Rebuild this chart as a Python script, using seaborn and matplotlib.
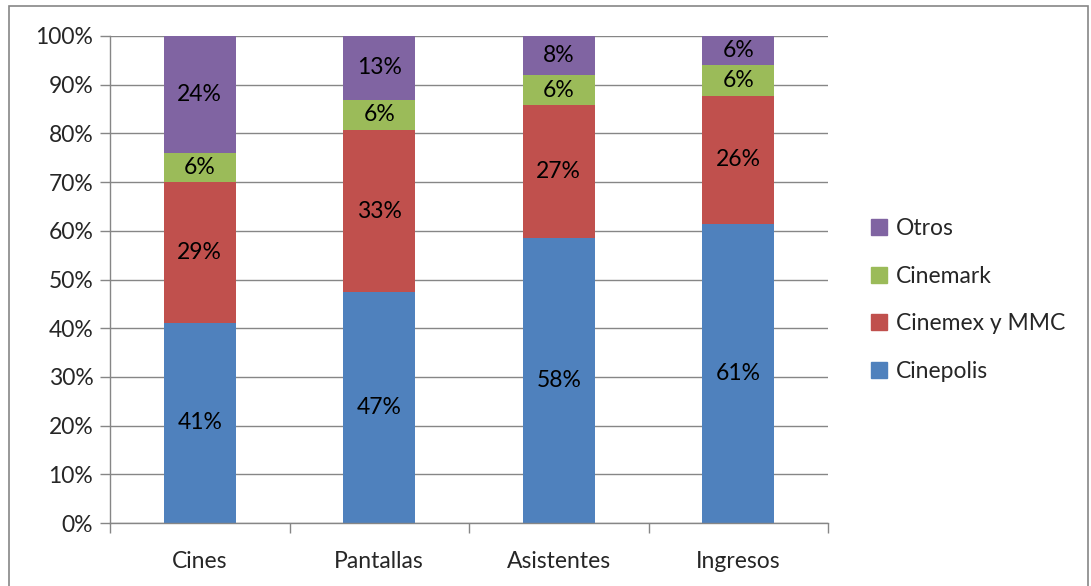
import numpy as np
import pandas as pd
import matplotlib
matplotlib.use('agg')
import matplotlib.pyplot as plt
import matplotlib.patches as mpatches
import seaborn as sns

# Data (percent shares)
categorias = ['Cines', 'Pantallas', 'Asistentes', 'Ingresos']
series = ['Cinepolis', 'Cinemex y MMC', 'Cinemark', 'Otros']
cinepolis = [41.1, 47.4, 58.5, 61.4]
cinemex = [28.9, 33.3, 27.3, 26.3]
cinemark = [6.0, 6.2, 6.2, 6.3]
otros = [24.0, 13.1, 8.0, 6.0]
colores = ['#4F81BD', '#C0504D', '#9BBB59', '#8064A2']

sns.set_theme(style='white')
plt.rcParams['font.family'] = ['Lato', 'DejaVu Sans']

valores = np.array([cinepolis, cinemex, cinemark, otros])
acumulado = valores.cumsum(axis=0)
FS = 16.5

fig = plt.figure(figsize=(10.91, 5.86), dpi=100)
ax = fig.add_axes([110 / 1091, 1 - 523 / 586, 718 / 1091, 487 / 586])

# draw stacked bars: tallest (cumulative) first so lower series sit on top
for i in range(len(series) - 1, -1, -1):
    df = pd.DataFrame({'categoria': categorias, 'valor': acumulado[i]})
    sns.barplot(data=df, x='categoria', y='valor', color=colores[i],
                width=0.4, saturation=1, linewidth=0, ax=ax, zorder=2)

# segment labels
for i in range(len(series)):
    for j in range(len(categorias)):
        base = acumulado[i][j] - valores[i][j]
        ax.text(j, base + valores[i][j] / 2, f'{valores[i][j]:.0f}%',
                ha='center', va='center', fontsize=FS, color='black', zorder=3)

ax.set_xlim(-0.5, 3.5)
ax.set_ylim(0, 100)
ax.set_yticks(np.arange(0, 101, 10))
ax.set_yticklabels([f'{v}%' for v in range(0, 101, 10)])
ax.set_xlabel('')
ax.set_ylabel('')
ax.yaxis.grid(True, color='#868686', linewidth=1, zorder=0)
ax.set_axisbelow(True)
for s in ['top', 'right']:
    ax.spines[s].set_visible(False)
for s in ['left', 'bottom']:
    ax.spines[s].set_color('#868686')
    ax.spines[s].set_linewidth(1)

ax.tick_params(axis='y', left=True, length=7, width=1, color='#868686',
               labelsize=FS, pad=5)
ax.tick_params(axis='x', bottom=False, labelsize=FS, pad=14)
# category separator ticks
ax.set_xticks(np.arange(-0.5, 4, 1), minor=True)
ax.tick_params(axis='x', which='minor', bottom=True, length=7, width=1,
               color='#868686')

handles = [mpatches.Patch(color=colores[i], label=series[i])
           for i in range(len(series) - 1, -1, -1)]
fig.legend(handles=handles, loc='center left', bbox_to_anchor=(850 / 1091, 1 - 300 / 586),
           frameon=False, fontsize=FS, labelspacing=1.17, handlelength=0.7,
           handleheight=0.7, handletextpad=0.4)

# chart area border
fig.patches.append(mpatches.Rectangle((9 / 1091, -0.01), 1079 / 1091, 1 - 6 / 586 + 0.01,
                                      transform=fig.transFigure, fill=False,
                                      edgecolor='#868686', linewidth=1.2))

fig.savefig('out.png', dpi=100)
